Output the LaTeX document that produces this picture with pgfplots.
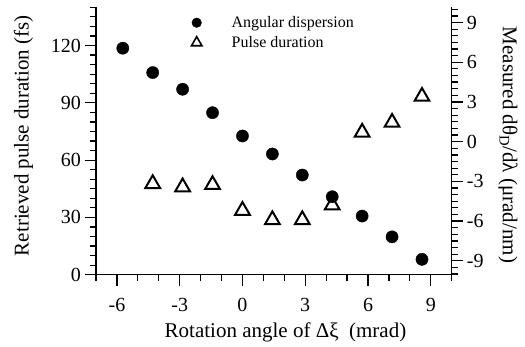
\documentclass[border=0pt]{standalone}
\usepackage{fontspec}
\setmainfont{Liberation Serif}
\usepackage{pgfplots}
\pgfplotsset{compat=1.18}
\begin{document}
\begin{tikzpicture}
\pgfplotsset{
  common/.style={
    at={(0pt,0pt)}, anchor=south west,
    scale only axis, width=355.7pt, height=267.4pt,
    xmin=-7, xmax=10,
    tick align=outside,
    major tick length=11pt, minor tick length=6pt,
    major tick style={line width=1.2pt, black},
    minor tick style={line width=1.2pt, black},
    axis line style={-, line width=1.2pt},
    every outer x axis line/.append style={-},
    every outer y axis line/.append style={-},
    /pgf/number format/assume math mode=true,
    tick label style={font=\fontsize{20}{20}\selectfont, inner sep=0pt},
    clip=false,
  }
}
\begin{axis}[common,
  ymin=0, ymax=140,
  axis x line*=bottom, axis y line*=left,
  xtick={-6,-3,0,3,6,9},
  minor xtick={-7,-5,-4,-2,-1,1,2,4,5,7,8,10},
  ytick={0,30,60,90,120},
  minor ytick={5,10,15,20,25,35,40,45,50,55,65,70,75,80,85,95,100,105,110,115,125,130,135,140},
  xticklabel style={anchor=base, yshift=-25.3pt},
  yticklabel style={anchor=east, xshift=-4pt},
  every axis x label/.style={at={(axis description cs:0.5328,-0.2367)}, anchor=base, font=\fontsize{21}{21}\selectfont},
  every axis y label/.style={at={(axis description cs:-0.204,0.52)}, rotate=90, anchor=center, font=\fontsize{21}{21}\selectfont},
  xlabel={Rotation angle of Δξ~~(mrad)},
  ylabel={Retrieved pulse duration (fs)},
]
\addplot[only marks, mark=triangle, mark size=8.5pt, mark options={line width=2pt, black}] coordinates {
(-4.29,47.6) (-2.86,45.9) (-1.43,47.1) (0,33.6) (1.43,28.7) (2.86,28.7) (4.29,36.4) (5.72,74.5) (7.15,79.7) (8.58,93.3)
};
\end{axis}
\begin{axis}[common,
  ymin=-10.05, ymax=10.15,
  axis x line=none, axis y line*=right,
  ytick={-9,-6,-3,0,3,6,9},
  minor ytick={-10,-9.5,-8.5,-8,-7.5,-7,-6.5,-5.5,-5,-4.5,-4,-3.5,-2.5,-2,-1.5,-1,-0.5,0.5,1,1.5,2,2.5,3.5,4,4.5,5,5.5,6.5,7,7.5,8,8.5,9.5,10},
  yticklabel style={anchor=west, xshift=4pt},
  every axis y label/.style={at={(axis description cs:1.158,0.485)}, rotate=-90, anchor=center, font=\fontsize{21}{21}\selectfont},
  ylabel={Measured dθ\textsubscript{D}/dλ (μrad/nm)},
  legend style={at={(axis description cs:0.2606,0.9723)}, anchor=north west, draw=none, fill=none, inner sep=0pt, outer sep=0pt, row sep=4pt, column sep=0pt, nodes={inner sep=0pt}, font=\fontsize{16}{16}\selectfont},
  legend cell align=left,
  legend image code/.code={\path[draw=none, fill=none] (-8pt,-8pt) rectangle (35pt,8pt); \draw[#1] plot coordinates {(0pt,0pt)};},
]
\addplot[forget plot, only marks, mark=*, mark size=6.1pt, black] coordinates {
(-5.72,7.06) (-4.29,5.22) (-2.86,3.96) (-1.43,2.19) (0,0.43) (1.43,-0.93) (2.86,-2.52) (4.29,-4.16) (5.72,-5.62) (7.15,-7.19) (8.58,-8.89)
};
\addlegendimage{only marks, mark=*, mark size=4.8pt, black}
\addlegendentry{Angular dispersion}
\addlegendimage{only marks, mark=triangle, mark size=6pt, mark options={line width=1.6pt, black}}
\addlegendentry{Pulse duration}
\end{axis}
\pgfresetboundingbox
\path[use as bounding box] (-96pt,-71.3pt) rectangle (429pt,274.7pt);
\end{tikzpicture}
\end{document}
